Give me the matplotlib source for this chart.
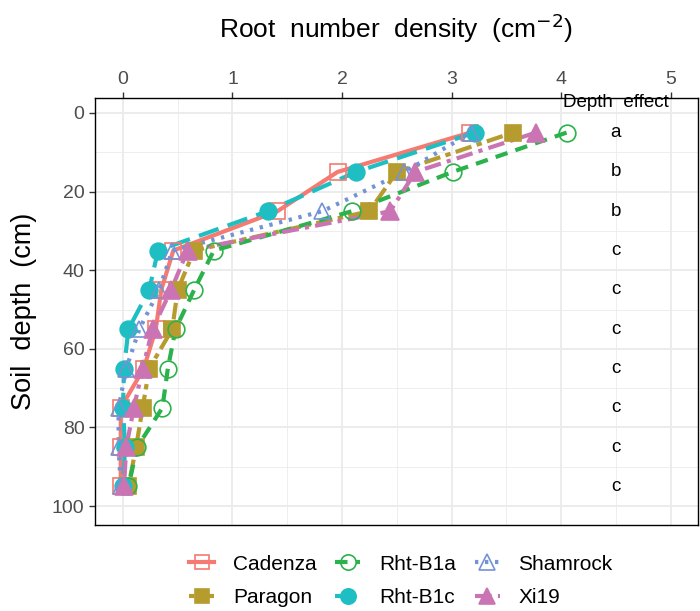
import matplotlib
matplotlib.use("Agg")
import matplotlib.pyplot as plt
from matplotlib.lines import Line2D
from matplotlib.ticker import MultipleLocator

plt.rcParams['font.family'] = ['Liberation Sans', 'DejaVu Sans']

depth = [5, 15, 25, 35, 45, 55, 65, 75, 85, 95]
cultivars = ["Cadenza", "Paragon", "Rht-B1a", "Rht-B1c", "Shamrock", "Xi19"]
cadenza  = [3.17, 1.96, 1.41, 0.46, 0.35, 0.30, 0.19, -0.02, -0.02, -0.02]
paragon  = [3.56, 2.50, 2.25, 0.65, 0.50, 0.45, 0.24, 0.18, 0.12, 0.05]
rht_b1a  = [4.05, 3.01, 2.09, 0.83, 0.65, 0.48, 0.41, 0.36, 0.13, 0.05]
rht_b1c  = [3.21, 2.13, 1.32, 0.32, 0.24, 0.05, 0.01, 0.00, 0.02, 0.00]
shamrock = [3.18, 2.57, 1.82, 0.45, 0.33, 0.15, 0.03, -0.04, -0.04, -0.02]
xi19     = [3.77, 2.67, 2.44, 0.59, 0.44, 0.27, 0.18, 0.10, 0.03, 0.01]
letters  = ["a", "b", "b", "c", "c", "c", "c", "c", "c", "c"]

series = [cadenza, paragon, rht_b1a, rht_b1c, shamrock, xi19]
colors = ['#F47A72', '#B69C2E', '#2BB24C', '#1FBEC3', '#7493D4', '#CB74B3']
markers = ['s', 's', 'o', 'o', '^', '^']
filled = [False, True, False, True, False, True]
msizes = [11, 11, 12, 12, 12, 13]
lstyles = ['-', (0, (1.3, 1.3, 4, 1.3)), (0, (3, 2)), (0, (5, 2.3)), (0, (0.8, 1.6)), (0, (4, 1.5, 1, 1.5))]

fig = plt.figure(figsize=(7, 6.11), dpi=100)
ax = fig.add_axes([95/700, 1-525/611, (698-95)/700, (525-98)/611])

for i, (vals, c) in enumerate(zip(series, colors)):
    ax.plot(vals, depth, color=c, lw=3, ls=lstyles[i], zorder=3, solid_capstyle='butt')
for i, (vals, c) in enumerate(zip(series, colors)):
    ax.plot(vals, depth, ls='none', marker=markers[i], ms=msizes[i],
            mfc=c if filled[i] else 'none', mec=c, mew=1.2, zorder=4)

for d, l in zip(depth, letters):
    ax.text(4.5, d, l, ha='center', va='center', fontsize=13.5, color='black')
ax.text(4.5, -2.6, "Depth  effect", ha='center', va='center', fontsize=13.5, color='black')

ax.set_xlim(-0.255, 5.25)
ax.set_ylim(104.8, -3.8)
ax.xaxis.set_major_locator(MultipleLocator(1))
ax.xaxis.set_minor_locator(MultipleLocator(0.5))
ax.yaxis.set_major_locator(MultipleLocator(20))
ax.yaxis.set_minor_locator(MultipleLocator(10))
ax.grid(which='major', color='#EBEBEB', lw=1.3, zorder=0)
ax.grid(which='minor', color='#EBEBEB', lw=0.6, zorder=0)
ax.set_axisbelow(True)
ax.xaxis.tick_top()
ax.xaxis.set_label_position('top')
ax.tick_params(which='major', length=4, width=1, color='#333333', labelsize=14, labelcolor='#4D4D4D')
ax.tick_params(which='minor', length=0)
ax.tick_params(axis='x', pad=3)
for s in ax.spines.values():
    s.set_color('black')
    s.set_linewidth(1)

ax.set_xlabel("Root  number  density  (cm$^{-2}$)", fontsize=19, labelpad=24)
ax.set_ylabel("Soil  depth  (cm)", fontsize=19.5, labelpad=11)

handles = []
for i, c in enumerate(colors):
    handles.append(Line2D([0], [0], color=c, lw=3, ls=lstyles[i], marker=markers[i], ms=msizes[i] - 1,
                          mfc=c if filled[i] else 'none', mec=c, mew=1.2))
leg = fig.legend(handles, cultivars, ncol=3, loc='center', bbox_to_anchor=(401/700, 1-581/611),
                 frameon=False, fontsize=15, handlelength=1.2, columnspacing=0.9,
                 handletextpad=0.9, labelspacing=0.7)

fig.savefig("out.png", dpi=100)
